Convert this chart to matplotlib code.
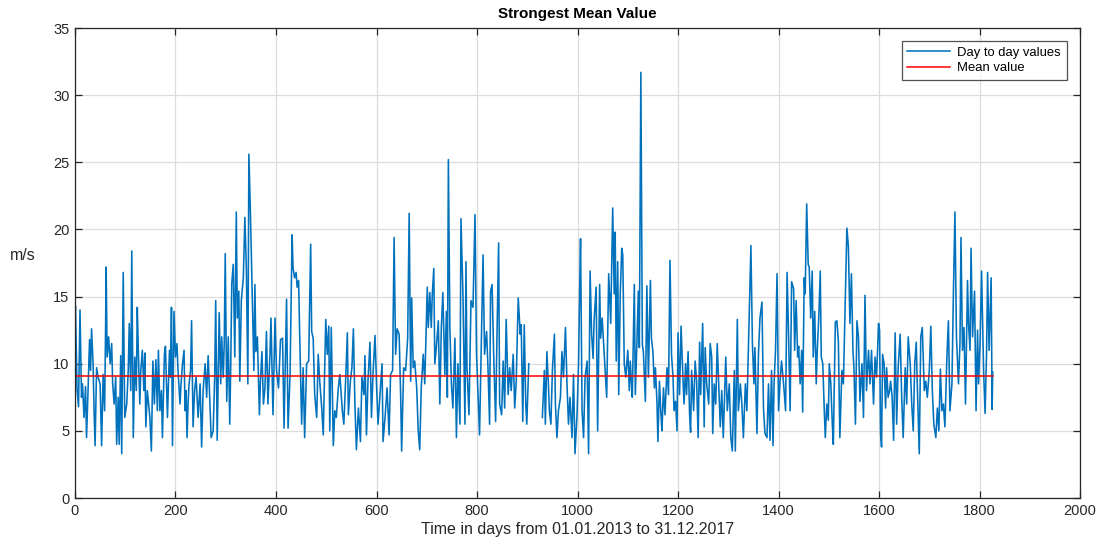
import numpy as np
import matplotlib
matplotlib.use("Agg")
import matplotlib.pyplot as plt

plt.rcParams['font.family'] = ['Liberation Sans', 'DejaVu Sans']

# Daily strongest-mean wind speed readings (day index, m/s); NaN marks missing days
days = [
    0, 1, 4, 7, 10, 13, 15, 18, 21, 23, 26, 29, 31, 33, 36, 38, 40, 43, 46, 50,
    53, 56, 59, 61, 62, 64, 67, 70, 73, 75, 78, 81, 83, 86, 88, 91, 93, 96, 99, 103,
    106, 108, 111, 113, 116, 119, 122, 124, 126, 129, 131, 134, 137, 139, 141, 144, 146, 149, 152, 155,
    158, 161, 164, 166, 169, 172, 174, 178, 180, 184, 188, 190, 192, 194, 197, 200, 203, 205, 209, 211,
    214, 217, 219, 221, 223, 225, 227, 230, 232, 235, 238, 241, 245, 249, 252, 255, 259, 262, 265, 268,
    271, 275, 278, 280, 283, 285, 287, 290, 292, 295, 297, 299, 302, 305, 308, 310, 312, 315, 318, 321,
    323, 326, 328, 331, 335, 338, 341, 344, 346, 349, 353, 356, 358, 360, 363, 367, 369, 372, 375, 378,
    381, 384, 388, 390, 394, 398, 401, 405, 409, 413, 416, 421, 424, 428, 432, 434, 437, 440, 442, 445,
    447, 451, 454, 457, 461, 465, 469, 471, 474, 477, 481, 484, 487, 491, 494, 499, 502, 505, 507, 510,
    514, 517, 520, 524, 527, 532, 535, 539, 542, 544, 548, 551, 554, 557, 560, 564, 568, 571, 575, 577,
    580, 583, 587, 590, 593, 597, 600, 603, 607, 611, 613, 617, 621, 625, 628, 632, 635, 638, 641, 645,
    648, 650, 654, 658, 662, 665, 668, 670, 673, 676, 680, 683, 686, 689, 693, 696, 701, 703, 706, 709,
    711, 714, 716, 719, 723, 726, 729, 732, 736, 739, 741, 743, 746, 749, 752, 756, 759, 762, 766, 768,
    772, 776, 778, 780, 784, 788, 792, 796, 799, 802, 805, 809, 812, 815, 819, 822, 825, 827, 830, 833,
    837, 840, 843, 845, 849, 852, 855, 858, 862, 865, 868, 872, 875, 878, 882, 886, 888, 891, 894, 897,
    899, 903, 916, 930, 934, 936, 939, 942, 944, 947, 950, 954, 956, 959, 962, 966, 969, 972, 976, 979,
    982, 985, 989, 992, 995, 999, 1002, 1004, 1006, 1009, 1012, 1015, 1019, 1022, 1025, 1028, 1031, 1033, 1037, 1040,
    1044, 1046, 1049, 1052, 1055, 1058, 1062, 1066, 1068, 1070, 1073, 1075, 1077, 1080, 1082, 1085, 1088, 1090, 1093, 1096,
    1100, 1103, 1105, 1107, 1109, 1113, 1115, 1118, 1121, 1123, 1126, 1129, 1131, 1135, 1138, 1141, 1145, 1147, 1150, 1153,
    1155, 1158, 1160, 1163, 1166, 1168, 1171, 1174, 1178, 1181, 1184, 1187, 1190, 1192, 1195, 1198, 1200, 1203, 1206, 1210,
    1212, 1215, 1217, 1220, 1223, 1225, 1227, 1231, 1234, 1237, 1240, 1243, 1245, 1249, 1252, 1254, 1257, 1261, 1264, 1267,
    1269, 1272, 1275, 1278, 1281, 1284, 1287, 1290, 1295, 1298, 1302, 1305, 1308, 1312, 1314, 1318, 1320, 1324, 1327, 1330,
    1334, 1337, 1340, 1342, 1345, 1348, 1351, 1353, 1357, 1360, 1363, 1367, 1370, 1373, 1377, 1380, 1383, 1386, 1389, 1391,
    1394, 1397, 1400, 1403, 1406, 1410, 1414, 1417, 1420, 1423, 1426, 1430, 1432, 1435, 1438, 1440, 1443, 1446, 1448, 1451,
    1453, 1456, 1459, 1461, 1464, 1467, 1469, 1472, 1475, 1477, 1480, 1483, 1485, 1488, 1491, 1493, 1496, 1499, 1501, 1504,
    1507, 1509, 1513, 1516, 1519, 1522, 1526, 1529, 1532, 1536, 1539, 1542, 1545, 1548, 1550, 1553, 1556, 1559, 1562, 1566,
    1569, 1572, 1575, 1579, 1582, 1585, 1589, 1592, 1595, 1599, 1601, 1603, 1605, 1607, 1610, 1613, 1615, 1618, 1621, 1623,
    1626, 1629, 1632, 1635, 1638, 1642, 1645, 1648, 1652, 1655, 1658, 1662, 1665, 1668, 1671, 1674, 1676, 1680, 1683, 1686,
    1690, 1693, 1696, 1700, 1703, 1706, 1709, 1713, 1716, 1719, 1722, 1725, 1728, 1731, 1735, 1738, 1741, 1745, 1748, 1751,
    1754, 1758, 1761, 1763, 1766, 1769, 1772, 1776, 1778, 1781, 1783, 1786, 1790, 1793, 1796, 1798, 1801, 1804, 1808, 1811,
    1814, 1816, 1819, 1823, 1825, 1826,
]

speeds = [
    13.5, 14.3, 8.2, 6.8, 14.0, 7.5, 8.5, 6.0, 8.3, 4.5, 8.0, 11.8, 9.5, 12.6, 10.0, 6.5, 3.9, 9.7, 9.0, 8.5,
    3.9, 9.2, 6.5, 13.0, 17.2, 10.5, 12.0, 10.0, 11.5, 8.5, 7.0, 9.0, 4.0, 7.5, 4.0, 10.6, 3.3, 16.8, 6.0, 7.0,
    9.5, 13.0, 8.0, 18.4, 4.5, 10.5, 8.0, 14.2, 11.0, 7.0, 9.5, 11.0, 8.0, 10.8, 5.3, 8.0, 7.2, 6.0, 3.5, 10.2,
    7.0, 10.3, 6.5, 11.0, 6.5, 8.0, 4.5, 10.7, 11.3, 6.0, 11.0, 9.0, 14.2, 3.9, 13.9, 10.5, 11.5, 9.5, 7.0, 8.5,
    10.0, 11.0, 6.5, 8.0, 4.5, 7.0, 8.5, 9.5, 13.2, 5.3, 8.0, 9.0, 6.0, 8.5, 3.8, 8.0, 10.0, 7.5, 10.6, 7.5,
    4.5, 5.0, 9.0, 14.7, 4.3, 9.0, 13.8, 8.5, 12.0, 9.0, 11.5, 18.2, 7.2, 12.0, 5.5, 10.0, 16.0, 17.4, 10.5, 21.3,
    13.4, 15.4, 8.7, 14.7, 16.4, 20.9, 17.2, 8.5, 25.6, 21.4, 14.4, 9.5, 15.9, 10.9, 12.0, 6.2, 8.7, 10.9, 7.0, 8.2,
    12.4, 7.0, 10.7, 13.4, 6.2, 13.4, 9.5, 8.2, 11.8, 11.9, 5.2, 14.8, 5.2, 9.2, 19.6, 17.1, 16.4, 16.8, 15.7, 16.2,
    12.4, 5.5, 9.7, 4.5, 10.0, 10.2, 18.9, 12.4, 11.9, 7.7, 6.0, 10.7, 8.7, 6.7, 4.7, 13.3, 10.7, 12.8, 5.0, 12.7,
    3.9, 6.5, 6.0, 8.2, 9.2, 6.5, 5.5, 9.2, 12.3, 6.2, 8.7, 9.7, 12.6, 7.0, 3.6, 6.7, 4.2, 9.0, 7.7, 10.6,
    4.7, 8.7, 11.6, 6.0, 9.2, 12.1, 8.5, 5.5, 7.8, 10.0, 4.2, 6.0, 8.2, 4.7, 9.2, 9.5, 19.4, 10.7, 12.6, 12.2,
    7.7, 3.5, 9.7, 9.5, 11.9, 21.2, 8.7, 14.9, 9.7, 10.2, 8.2, 5.0, 3.6, 8.2, 10.7, 8.5, 15.7, 12.7, 15.3, 12.7,
    15.2, 17.1, 10.0, 11.2, 13.2, 7.0, 12.7, 15.3, 9.2, 13.9, 7.5, 25.2, 12.7, 8.5, 6.7, 11.9, 4.5, 10.0, 5.5, 20.8,
    15.2, 5.5, 17.6, 9.7, 6.2, 14.7, 14.2, 21.1, 10.7, 7.7, 4.7, 12.2, 18.1, 10.7, 12.4, 9.5, 5.5, 15.4, 15.9, 10.9,
    5.7, 12.7, 19.0, 7.0, 6.2, 10.2, 6.7, 13.3, 7.7, 9.7, 8.0, 10.7, 6.7, 8.7, 14.9, 12.2, 12.9, 5.7, 12.9, 7.0,
    5.5, 10.0, np.nan, 6.0, 9.5, 5.5, 10.9, 8.5, 6.5, 5.5, 9.5, 12.2, 7.0, 4.5, 6.5, 7.5, 10.9, 9.0, 12.7, 8.5,
    5.5, 7.5, 4.5, 9.2, 3.3, 6.2, 10.0, 15.0, 19.3, 6.5, 4.5, 9.0, 10.2, 3.3, 16.9, 12.2, 10.4, 13.2, 15.7, 5.0,
    15.9, 11.9, 13.4, 11.4, 9.5, 7.5, 16.7, 13.0, 17.5, 21.6, 15.2, 19.8, 10.2, 17.6, 7.7, 15.2, 18.6, 18.1, 10.0, 9.0,
    11.0, 8.0, 10.2, 8.7, 7.5, 15.9, 7.7, 11.4, 15.4, 11.2, 31.7, 11.4, 10.9, 7.2, 15.8, 9.0, 16.2, 11.9, 10.9, 8.2,
    9.7, 7.2, 4.2, 8.7, 6.2, 5.0, 8.2, 6.2, 9.7, 7.7, 17.7, 10.7, 9.0, 6.5, 7.2, 5.0, 12.3, 7.7, 12.8, 8.7,
    7.0, 10.0, 7.7, 10.9, 6.2, 4.9, 9.5, 6.5, 10.2, 8.7, 4.5, 11.6, 7.7, 13.0, 5.3, 11.2, 8.5, 7.0, 11.5, 10.5,
    4.8, 8.5, 7.0, 11.5, 8.5, 5.3, 8.0, 4.5, 10.5, 6.5, 8.5, 4.5, 3.5, 9.5, 3.5, 13.3, 6.5, 8.5, 7.0, 4.5,
    8.5, 6.5, 11.2, 14.6, 18.8, 11.5, 8.5, 11.2, 4.8, 10.7, 13.4, 14.6, 6.7, 4.8, 4.5, 8.5, 4.3, 9.5, 3.9, 8.5,
    11.0, 16.7, 6.5, 8.7, 10.2, 8.5, 6.5, 16.8, 12.0, 6.5, 16.1, 15.6, 11.0, 14.7, 10.5, 11.3, 8.5, 11.0, 6.4, 16.4,
    15.2, 21.9, 17.4, 17.2, 13.4, 16.9, 10.5, 13.9, 8.5, 11.0, 13.4, 16.9, 10.5, 10.0, 6.5, 4.5, 7.0, 5.8, 10.0, 8.5,
    5.5, 4.0, 13.1, 13.2, 11.7, 4.5, 9.5, 8.5, 13.4, 20.1, 18.7, 13.0, 16.7, 11.0, 9.7, 5.5, 13.2, 12.0, 7.2, 10.0,
    6.0, 15.1, 8.0, 11.0, 8.5, 11.0, 7.0, 10.5, 9.0, 13.0, 12.5, 4.8, 3.8, 10.7, 10.0, 6.7, 9.7, 7.5, 8.0, 8.7,
    7.5, 4.3, 12.3, 5.5, 9.7, 12.2, 7.5, 4.5, 9.7, 7.0, 12.0, 10.0, 7.0, 5.0, 10.0, 11.6, 8.5, 3.3, 12.0, 12.7,
    8.0, 8.7, 7.5, 9.5, 12.8, 8.0, 5.5, 4.5, 6.7, 5.0, 9.6, 6.5, 7.0, 5.3, 10.5, 13.2, 6.5, 8.5, 15.4, 21.3,
    12.0, 8.5, 11.5, 19.4, 11.0, 12.7, 7.0, 16.2, 13.0, 11.0, 18.6, 12.0, 15.4, 6.5, 12.5, 8.5, 11.5, 16.9, 9.5, 6.3,
    11.0, 16.8, 11.0, 16.4, 6.6, 9.4,
]

mean_value = 9.05
period = [0, 1826]

x_ticks = [0, 200, 400, 600, 800, 1000, 1200, 1400, 1600, 1800, 2000]
y_ticks = [0, 5, 10, 15, 20, 25, 30, 35]

fig = plt.figure(figsize=(11.01, 5.46), dpi=100)
ax = fig.add_axes([0.0681, 0.0879, 0.9129, 0.8608])

ax.plot(days, speeds, color='#0072BD', linewidth=1.15, label='Day to day values')
ax.plot(period, [mean_value, mean_value], color='#FF0000', linewidth=1.1,
        label='Mean value')

ax.set_xlim(0, 2000)
ax.set_ylim(0, 35)
ax.set_xticks(x_ticks)
ax.set_yticks(y_ticks)
ax.grid(True, color='#DCDCDC', linewidth=0.9)
ax.set_axisbelow(True)

ax.tick_params(direction='in', top=True, right=True, length=5, width=0.9,
               colors='#262626', labelsize=10.5, labelcolor='#262626', pad=4)
for spine in ax.spines.values():
    spine.set_color('#262626')
    spine.set_linewidth(0.9)

ax.set_title('Strongest Mean Value', fontsize=11, fontweight='bold', color='black', pad=7)
ax.set_xlabel('Time in days from 01.01.2013 to 31.12.2017', fontsize=11.5,
              color='#262626', labelpad=3)
ax.set_ylabel('m/s', fontsize=11.5, color='#262626', rotation=0, labelpad=22)

leg = ax.legend(loc='upper right', fontsize=9.4, frameon=True, fancybox=False,
                bbox_to_anchor=(0.9865, 0.973), borderaxespad=0.0,
                handlelength=3.3, handletextpad=0.5,
                borderpad=0.45, labelspacing=0.25)
leg.get_frame().set_edgecolor('#262626')
leg.get_frame().set_linewidth(0.9)

fig.savefig('out.png', dpi=100)
